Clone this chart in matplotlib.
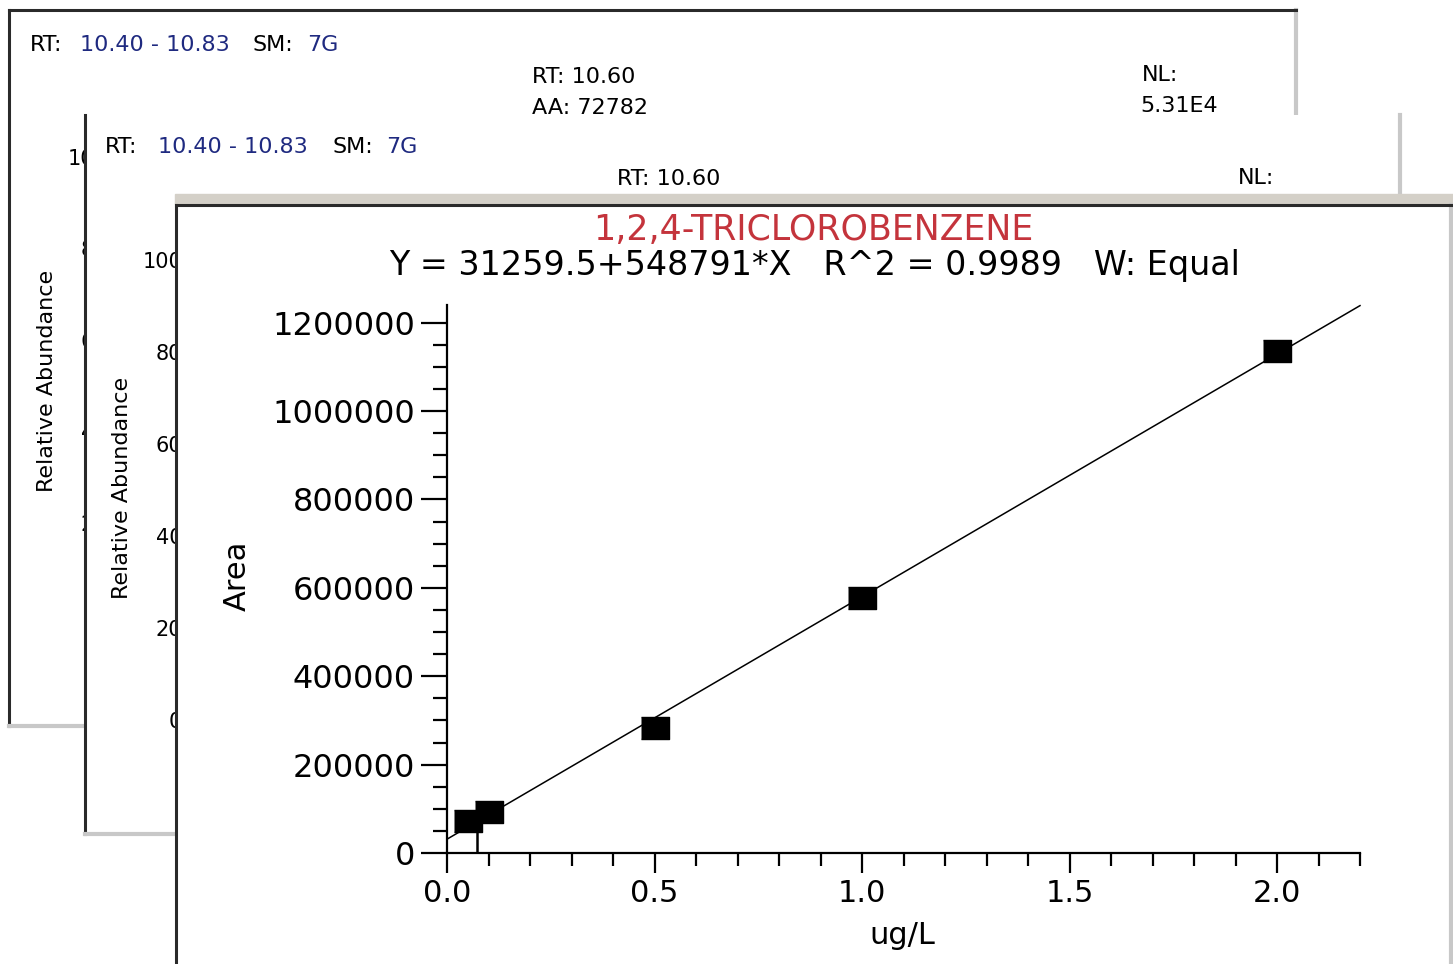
import numpy as np
import matplotlib
matplotlib.use("Agg")
import matplotlib.pyplot as plt
from matplotlib.patches import Rectangle
from matplotlib.ticker import MultipleLocator, FuncFormatter

W, H = 1453, 964

# calibration standards (ug/L) and peak areas
conc = [0.05, 0.1, 0.5, 1.0, 2.0]
area = [72782, 93000, 282000, 577000, 1137000]
intercept = 31259.5
slope = 548791
r2 = 0.9989
x_max = 2.2
y_max = 1240000
lod_x = 0.072  # short vertical line under the first standard

compound = "1,2,4-TRICLOROBENZENE"
x_ticks = [0.0, 0.5, 1.0, 1.5, 2.0]
x_tick_labels = ["0.0", "0.5", "1.0", "1.5", "2.0"]
abundance_ticks = [0, 20, 40, 60, 80, 100]

rt_range = "10.40 - 10.83"
smoothing = "7G"
rt_peak = "10.60"
aa_peak = "72782"
nl_value = "5.31E4"

BLUE = "#1f2a80"
RED = "#c4343c"
DARK = "#2a2a2a"
LIGHT = "#c8c8c8"
BAR = "#d4d0c8"


def fx(px):
    return px / W


def fy(py):
    return 1 - py / H


def box(x0, y0, x1, y1):
    return [fx(x0), fy(y1), fx(x1) - fx(x0), fy(y0) - fy(y1)]


plt.rcParams['font.family'] = ['DejaVu Sans']
fig = plt.figure(figsize=(W / 100, H / 100), dpi=100)


def window(x0, y0, x1, y1, z, top=True):
    ax = fig.add_axes(box(x0, y0, x1, y1), zorder=z)
    ax.set_xticks([])
    ax.set_yticks([])
    ax.set_facecolor("white")
    for s in ["left", "top"]:
        ax.spines[s].set_color(DARK)
        ax.spines[s].set_linewidth(2.2)
    for s in ["right", "bottom"]:
        ax.spines[s].set_color(LIGHT)
        ax.spines[s].set_linewidth(3)
    ax.spines["top"].set_visible(top)
    return ax


def label(ax, x, y, s, **kw):
    kw.setdefault("fontsize", 16)
    kw.setdefault("va", "center")
    ax.text(fx(x), fy(y), s, transform=fig.transFigure, **kw)


def header(ax, y, xs):
    # "RT: 10.40 - 10.83   SM: 7G" with the values in blue
    label(ax, xs[0], y, "RT:")
    label(ax, xs[1], y, rt_range, color=BLUE)
    label(ax, xs[2], y, "SM:")
    label(ax, xs[3], y, smoothing, color=BLUE)


def abundance_axes(x0, y0, x1, y1, z):
    ax = fig.add_axes(box(x0, y0, x1, y1), zorder=z)
    ax.patch.set_visible(False)
    for s in ["top", "right", "bottom"]:
        ax.spines[s].set_visible(False)
    ax.set_ylim(0, 100)
    ax.set_xticks([])
    ax.set_yticks(abundance_ticks)
    ax.tick_params(axis="y", labelsize=15, length=5)
    return ax


# window 1 (back)
w1 = window(9, 10, 1296, 726, 1)
header(w1, 45, [30, 80, 253, 307])
label(w1, 532, 77, "RT: " + rt_peak)
label(w1, 532, 108, "AA: " + aa_peak)
label(w1, 1142, 75, "NL:")
label(w1, 1140, 106, nl_value)
label(w1, 47, 381, "Relative Abundance", rotation=90, ha="center")
abundance_axes(119, 157, 1280, 614, 1.5)

# window 2 (middle)
w2 = window(85, 115, 1400, 834, 2, top=False)
header(w2, 147, [105, 158, 333, 386])
label(w2, 617, 179, "RT: " + rt_peak)
label(w2, 1238, 178, "NL:")
label(w2, 122, 488, "Relative Abundance", rotation=90, ha="center")
abundance_axes(194, 260, 1380, 720, 2.5)

# window 3 (front) with the calibration curve
w3 = window(176, 205, 1451, 990, 3)
w3.add_patch(Rectangle((fx(175), fy(204)), 1, fy(194) - fy(204),
                       transform=fig.transFigure, color=BAR, clip_on=False))
label(w3, 813, 230, compound, fontsize=25, color=RED, ha="center")
label(w3, 815, 266, f"Y = {intercept}+{slope}*X   R^2 = {r2}   W: Equal",
      fontsize=24, ha="center")
label(w3, 237, 576, "Area", fontsize=22, rotation=90, ha="center")
label(w3, 902, 935, "ug/L", fontsize=22, ha="center")

ax = fig.add_axes(box(447, 305, 1360, 853), zorder=3.5)
ax.patch.set_visible(False)
ax.spines["top"].set_visible(False)
ax.spines["right"].set_visible(False)
for s in ["left", "bottom"]:
    ax.spines[s].set_linewidth(1.6)
ax.set_xlim(0, x_max)
ax.set_ylim(0, y_max)

ax.set_xticks(x_ticks)
ax.set_xticklabels(x_tick_labels)
ax.xaxis.set_minor_locator(MultipleLocator(0.1))
ax.yaxis.set_major_locator(MultipleLocator(200000))
ax.yaxis.set_minor_locator(MultipleLocator(50000))
ax.yaxis.set_major_formatter(FuncFormatter(lambda v, p: f"{int(round(v))}"))
ax.tick_params(axis="x", which="major", length=14.5, width=1.6, labelsize=22, pad=4)
ax.tick_params(axis="x", which="minor", length=9, width=1.6)
ax.tick_params(axis="y", which="major", length=19, width=1.6, labelsize=23, pad=4)
ax.tick_params(axis="y", which="minor", length=10, width=1.6)

xs = np.array([0, x_max])
ax.plot(xs, intercept + slope * xs, color="black", lw=1.1, clip_on=False)
ax.vlines(lod_x, 0, area[0], color="black", lw=1.8)
rect = [(-1, -0.74), (1, -0.74), (1, 0.74), (-1, 0.74)]
ax.plot(conc, area, linestyle="none", marker=rect, markersize=20.5,
        color="black", clip_on=False, zorder=5)

fig.savefig("out.png", dpi=100)
